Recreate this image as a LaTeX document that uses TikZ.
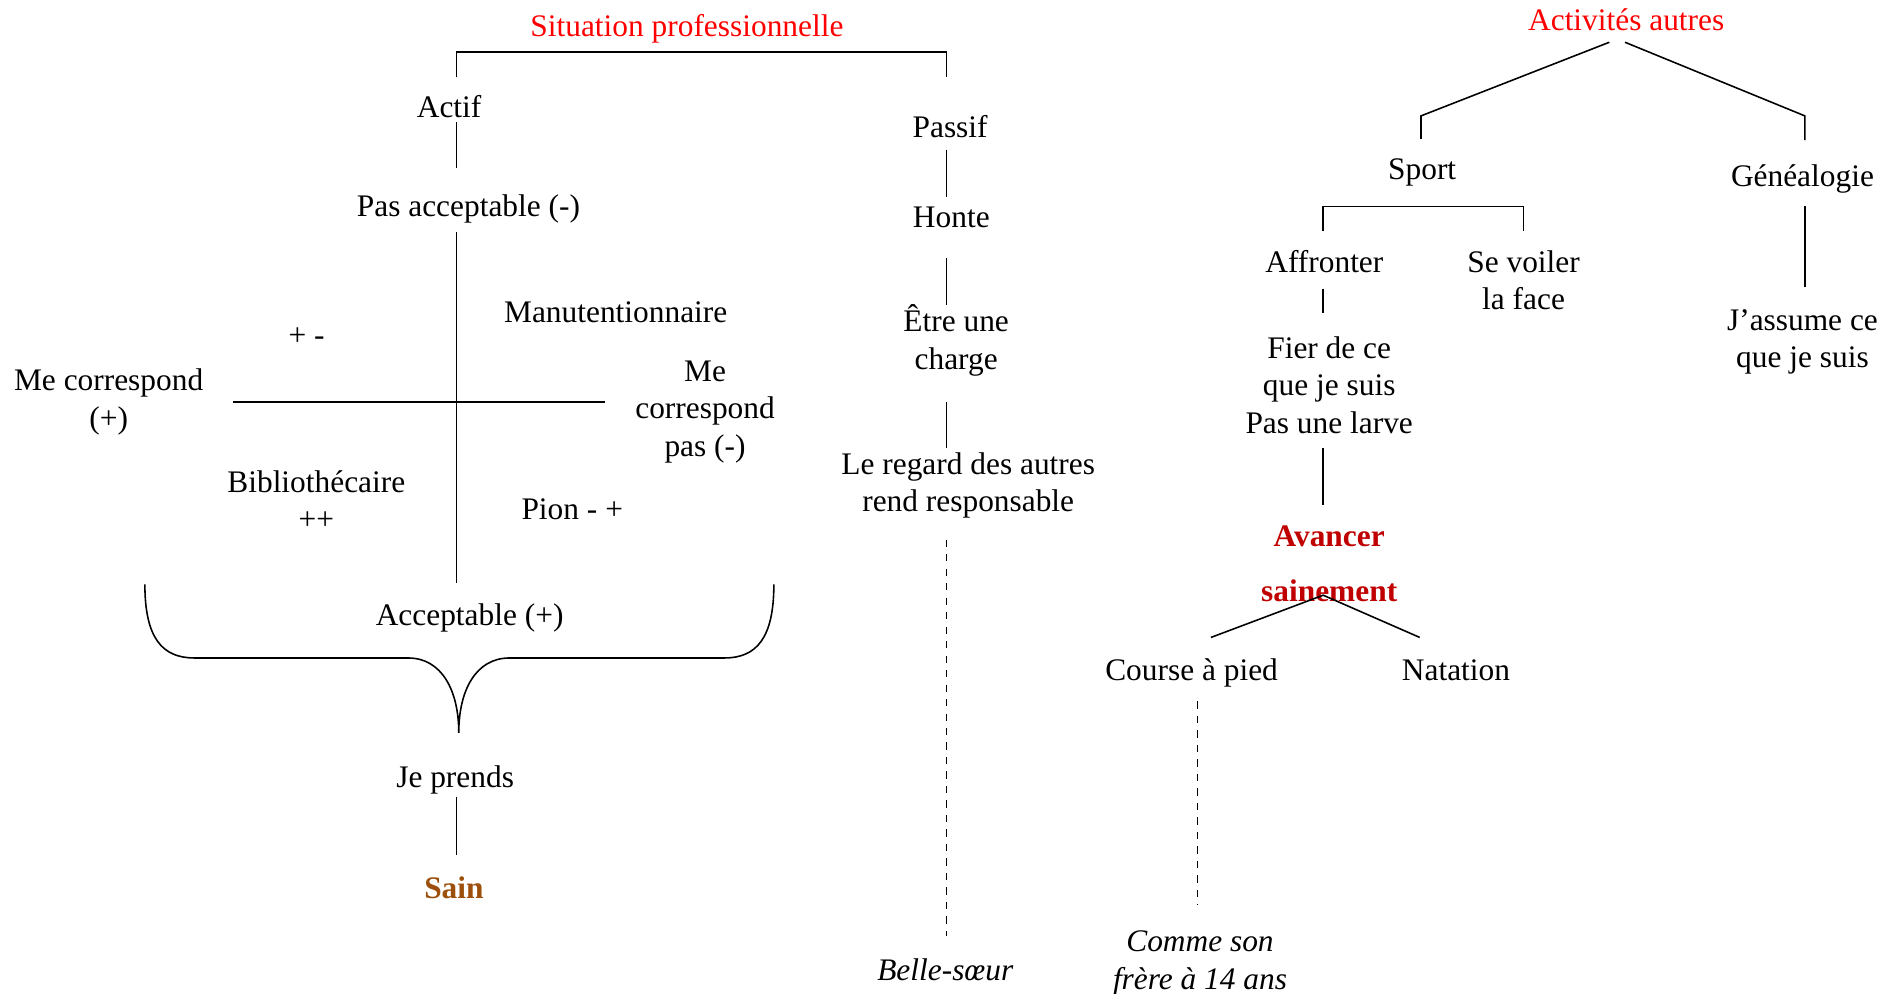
\documentclass[tikz,border=0pt]{standalone}
\usepackage{fontspec}
\setmainfont{Liberation Serif}
\definecolor{sainc}{RGB}{156,80,12}
\definecolor{avc}{RGB}{192,0,0}
\begin{document}
\begin{tikzpicture}[x=1pt,y=-1pt,
  txt/.style={inner sep=0pt,align=center,font=\fontsize{26}{31}\selectfont},
  ttl/.style={txt,text=red},
  itx/.style={inner sep=0pt,align=center,font=\fontsize{26}{31}\selectfont\itshape},
  ln/.style={line width=1.3pt},
  dsh/.style={line width=1.3pt,dash pattern=on 6pt off 6pt}]
\useasboundingbox (0,0) rectangle (1568,823);

% ---------- left part ----------
\node[ttl] (sitpro) at (569,24) {Situation professionnelle};
\node[txt] (actif) at (372,88) {Actif};
\node[txt] (pasacc) at (388,173) {Pas acceptable (-)};
\node[txt] (manu) at (510,259) {Manutentionnaire};
\node[txt] (pm) at (254,279) {+ -};
\node[txt] (mecor) at (90,333) {Me correspond\\(+)};
\node[txt] (mecorpas) at (584,341) {Me\\correspond\\pas (-)};
\node[txt] (biblio) at (262,414) {Bibliothécaire\\++};
\node[txt] (pion) at (474,422) {Pion - +};
\node[txt] (accept) at (389,512) {Acceptable (+)};
\node[txt] (jeprends) at (377,646) {Je prends};
\node[inner sep=0pt,text=sainc,font=\fontsize{26}{31}\selectfont\bfseries] (sain) at (376,735) {Sain};

\coordinate (bl) at (378,64);
\coordinate (bc1) at (378,43);
\coordinate (bc2) at (784,43);
\coordinate (br) at (784,64);
\draw[ln] (bl) -- (bc1) -- (bc2) -- (br);

\coordinate (a1) at (378,101);
\coordinate (a2) at (378,139);
\draw[ln] (a1) -- (a2);
\coordinate (v1) at (378,192);
\coordinate (v2) at (378,483);
\draw[ln] (v1) -- (v2);
\coordinate (h1) at (193,333);
\coordinate (h2) at (501,333);
\draw[ln] (h1) -- (h2);

\coordinate (brL) at (120,484);
\coordinate (brR) at (641,484);
\coordinate (brC) at (380,607);
\draw[ln] (brL) .. controls (120,528) and (134,545) .. (161,545) -- (338,545)
  .. controls (366,545) and (380,572) .. (brC)
  .. controls (380,572) and (394,545) .. (422,545) -- (600,545)
  .. controls (627,545) and (641,528) .. (brR);

\coordinate (j1) at (378,660);
\coordinate (j2) at (378,708);
\draw[ln] (j1) -- (j2);

% ---------- middle column ----------
\node[txt] (passif) at (787,105) {Passif};
\node[txt] (honte) at (788,180) {Honte};
\node[txt] (charge) at (792,282) {Être une\\charge};
\node[txt] (regard) at (802,402) {Le regard des autres\\rend responsable};
\node[itx] (belle) at (783,803) {Belle-sœur};

\coordinate (p1) at (784,124);
\coordinate (p2) at (784,163);
\draw[ln] (p1) -- (p2);
\coordinate (o1) at (784,214);
\coordinate (o2) at (784,253);
\draw[ln] (o1) -- (o2);
\coordinate (c1) at (784,333);
\coordinate (c2) at (784,371);
\draw[ln] (c1) -- (c2);
\coordinate (d1) at (784,447);
\coordinate (d2) at (784,775);
\draw[dsh] (d1) -- (d2);

% ---------- right part ----------
\node[ttl] (activ) at (1347,16) {Activités autres};
\node[txt] (sport) at (1178,143) {Sport};
\node[txt] (genea) at (1493,148) {Généalogie};
\node[txt] (affr) at (1097,217) {Affronter};
\node[txt] (voiler) at (1262,232) {Se voiler\\la face};
\node[txt] (fier) at (1101,319) {Fier de ce\\que je suis\\Pas une larve};
\node[txt] (assume) at (1493,283) {J’assume ce\\que je suis};
\node[inner sep=0pt,align=center,text=avc,font=\fontsize{26}{45}\selectfont\bfseries] (avancer) at (1101,467) {Avancer\\sainement};
\node[txt] (course) at (987,557) {Course à pied};
\node[txt] (natation) at (1206,555) {Natation};
\node[itx] (comme) at (994,798) {Comme son\\frère à 14 ans};

\coordinate (t1) at (1333,35);
\coordinate (t2) at (1177,96);
\coordinate (t3) at (1177,115);
\draw[ln] (t1) -- (t2) -- (t3);
\coordinate (u1) at (1346,35);
\coordinate (u2) at (1495,96);
\coordinate (u3) at (1495,116);
\draw[ln] (u1) -- (u2) -- (u3);

\coordinate (s1) at (1096,191);
\coordinate (s2) at (1096,171);
\coordinate (s3) at (1262,171);
\coordinate (s4) at (1262,191);
\draw[ln] (s1) -- (s2) -- (s3) -- (s4);

\coordinate (f1) at (1096,239);
\coordinate (f2) at (1096,259);
\draw[ln] (f1) -- (f2);
\coordinate (g1) at (1495,171);
\coordinate (g2) at (1495,238);
\draw[ln] (g1) -- (g2);
\coordinate (k1) at (1096,371);
\coordinate (k2) at (1096,418);
\draw[ln] (k1) -- (k2);

\coordinate (ap) at (1096,493);
\coordinate (al) at (1003,528);
\coordinate (ar) at (1176,528);
\draw[ln] (al) -- (ap) -- (ar);

\coordinate (e1) at (992,581);
\coordinate (e2) at (992,750);
\draw[dsh] (e1) -- (e2);
\end{tikzpicture}
\end{document}
